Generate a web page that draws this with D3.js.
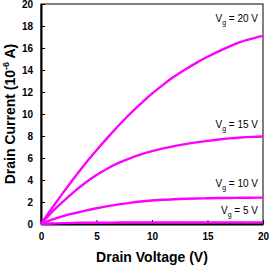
<!DOCTYPE html>
<html><head><meta charset="utf-8">
<script src="https://cdn.jsdelivr.net/npm/d3@7"></script>
<style>body{margin:0;background:#fff}svg{display:block}text{font-family:"Liberation Sans",Arial,sans-serif}</style>
</head><body><svg id="c" width="270" height="269"></svg>
<script>
const xTicks = [0,5,10,15,20];
const yTicks = [0,2,4,6,8,10,12,14,16,18,20];
const vd = [0,1,2,3,4,5,6,7,8,9,10,11,12,13,14,15,16,17,18,19,20];
const vg20 = [0,1.45,2.85,4.2,5.5,6.7,7.85,8.95,10.0,10.95,11.85,12.65,13.4,14.05,14.65,15.2,15.7,16.15,16.55,16.85,17.1];
const vg15 = [0,1.1,2.05,2.95,3.75,4.45,5.05,5.55,5.97,6.32,6.62,6.87,7.08,7.26,7.42,7.56,7.68,7.78,7.86,7.92,7.96];
const vg10 = [0,0.4,0.72,0.98,1.22,1.43,1.62,1.78,1.92,2.04,2.13,2.2,2.25,2.29,2.32,2.34,2.36,2.37,2.38,2.39,2.4];
const vg5 = [0,0.05,0.08,0.1,0.11,0.12,0.12,0.13,0.13,0.13,0.13,0.14,0.14,0.14,0.14,0.14,0.15,0.15,0.15,0.15,0.15];
const seriesLabels = ["20","15","10","5"];
const seriesData = [vg20, vg15, vg10, vg5];

const svg = d3.select("#c");
const L=41,R=263,T=4,B=224;
const x = d3.scaleLinear().domain([0,20]).range([L,R]);
const y = d3.scaleLinear().domain([0,20]).range([B,T]);

svg.append("rect").attr("x",L).attr("y",T).attr("width",R-L).attr("height",B-T)
  .attr("fill","none").attr("stroke","#000").attr("stroke-width",1);

svg.append("g").attr("transform",`translate(0,${B})`)
  .call(d3.axisTop(x).tickValues(d3.range(0,21,1)).tickSize(2).tickFormat(""))
  .call(g=>g.select(".domain").remove());
svg.append("g").attr("transform",`translate(0,${B})`)
  .call(d3.axisBottom(x).tickValues(xTicks).tickSizeInner(-4).tickSizeOuter(0).tickPadding(9))
  .call(g=>{g.select(".domain").attr("stroke-width",2);
    g.selectAll("text").attr("font-size",10).attr("font-weight","bold").attr("fill","#000");});
svg.append("g").attr("transform",`translate(${L},0)`)
  .call(d3.axisLeft(y).tickValues(yTicks).tickSizeInner(-4).tickSizeOuter(0).tickPadding(8))
  .call(g=>{g.select(".domain").attr("stroke-width",2);
    g.selectAll("text").attr("font-size",10).attr("font-weight","bold").attr("fill","#000");});

const line = d3.line().x((d,i)=>x(vd[i])).y(d=>y(d)).curve(d3.curveMonotoneX);
svg.append("g").selectAll("path").data(seriesData).join("path")
  .attr("d",d=>line(d)).attr("fill","none").attr("stroke","#ff00ff").attr("stroke-width",2.4);

const labelY = [18, 124, 183, 210];
seriesLabels.forEach((s,i)=>{
  const t = svg.append("text").attr("x",258).attr("y",labelY[i]+4).attr("text-anchor","end")
    .attr("font-size",10).attr("fill","#000");
  t.append("tspan").text("V");
  t.append("tspan").attr("font-size",7).attr("dy",3).text("g");
  t.append("tspan").attr("dy",-3).text(" = "+s+" V");
});

svg.append("text").attr("x",152).attr("y",262).attr("text-anchor","middle")
  .attr("font-size",14).attr("font-weight","bold").text("Drain Voltage (V)");
const yt = svg.append("text").attr("transform","translate(15,114) rotate(-90)").attr("text-anchor","middle")
  .attr("font-size",14).attr("font-weight","bold");
yt.append("tspan").text("Drain Current (10");
yt.append("tspan").attr("font-size",9).attr("dy",-6).text("-6");
yt.append("tspan").attr("dy",6).text(" A)");
</script></body></html>
